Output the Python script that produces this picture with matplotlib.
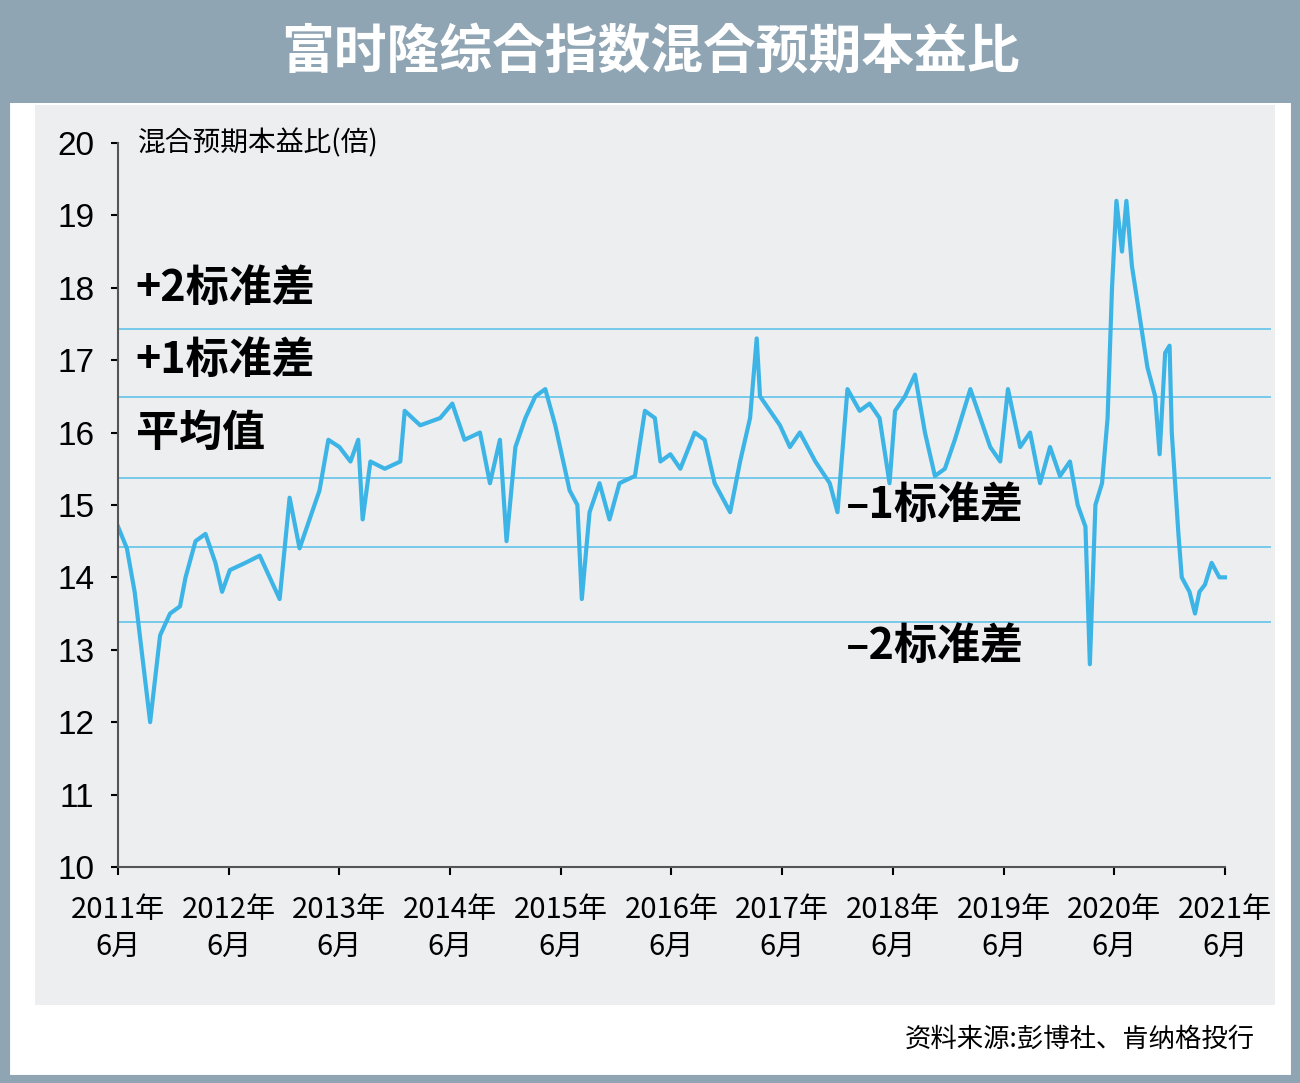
import matplotlib.pyplot as plt
from matplotlib.patches import Rectangle

plt.rcParams['font.family'] = ['Noto Sans CJK SC', 'Noto Sans CJK JP', 'DejaVu Sans']

# 数据 (十进制年份, 本益比)
years = [2011.50, 2011.58, 2011.65, 2011.79, 2011.88, 2011.97, 2012.06, 2012.11, 2012.20, 2012.29,
         2012.38, 2012.44, 2012.51, 2012.65, 2012.78, 2012.87, 2012.96, 2013.05, 2013.14, 2013.23,
         2013.32, 2013.40, 2013.50, 2013.60, 2013.67, 2013.71, 2013.78, 2013.91, 2014.05, 2014.09,
         2014.23, 2014.41, 2014.52, 2014.63, 2014.77, 2014.86, 2014.95, 2015.01, 2015.09, 2015.18,
         2015.27, 2015.36, 2015.45, 2015.58, 2015.65, 2015.69, 2015.76, 2015.85, 2015.94, 2016.03,
         2016.17, 2016.26, 2016.35, 2016.40, 2016.49, 2016.58, 2016.71, 2016.80, 2016.89, 2017.03,
         2017.12, 2017.21, 2017.27, 2017.30, 2017.39, 2017.48, 2017.57, 2017.66, 2017.80, 2017.93,
         2018.00, 2018.09, 2018.20, 2018.29, 2018.38, 2018.47, 2018.52, 2018.61, 2018.70, 2018.79,
         2018.88, 2018.97, 2019.06, 2019.20, 2019.29, 2019.38, 2019.47, 2019.54, 2019.65, 2019.74,
         2019.83, 2019.92, 2020.01, 2020.10, 2020.17, 2020.24, 2020.28, 2020.33, 2020.39, 2020.44,
         2020.48, 2020.52, 2020.57, 2020.61, 2020.66, 2020.71, 2020.75, 2020.80, 2020.87, 2020.91,
         2020.96, 2021.00, 2021.02, 2021.05, 2021.08, 2021.11, 2021.18, 2021.23, 2021.27, 2021.32,
         2021.38, 2021.45, 2021.50]
pe = [14.7, 14.4, 13.8, 12.0, 13.2, 13.5, 13.6, 14.0, 14.5, 14.6,
      14.2, 13.8, 14.1, 14.2, 14.3, 14.0, 13.7, 15.1, 14.4, 14.8,
      15.2, 15.9, 15.8, 15.6, 15.9, 14.8, 15.6, 15.5, 15.6, 16.3,
      16.1, 16.2, 16.4, 15.9, 16.0, 15.3, 15.9, 14.5, 15.8, 16.2,
      16.5, 16.6, 16.1, 15.2, 15.0, 13.7, 14.9, 15.3, 14.8, 15.3,
      15.4, 16.3, 16.2, 15.6, 15.7, 15.5, 16.0, 15.9, 15.3, 14.9,
      15.6, 16.2, 17.3, 16.5, 16.3, 16.1, 15.8, 16.0, 15.6, 15.3,
      14.9, 16.6, 16.3, 16.4, 16.2, 15.3, 16.3, 16.5, 16.8, 16.0,
      15.4, 15.5, 15.9, 16.6, 16.2, 15.8, 15.6, 16.6, 15.8, 16.0,
      15.3, 15.8, 15.4, 15.6, 15.0, 14.7, 12.8, 15.0, 15.3, 16.2,
      18.0, 19.2, 18.5, 19.2, 18.3, 17.8, 17.4, 16.9, 16.5, 15.7,
      17.1, 17.2, 16.0, 15.3, 14.6, 14.0, 13.8, 13.5, 13.8, 13.9,
      14.2, 14.0, 14.0]

band_levels = [17.43, 16.49, 15.37, 14.42, 13.38]
band_labels = ['+2标准差', '+1标准差', '平均值', '–1标准差', '–2标准差']
x_tick_years = list(range(2011, 2022))
y_ticks = list(range(10, 21))

line_col = '#3db4e6'
frame_col = '#8fa5b4'

fig = plt.figure(figsize=(13, 10.83), dpi=100)
fig.patch.set_facecolor('white')
# 外框和标题栏 (放在坐标轴下面)
for r in [Rectangle((0.003, 0.003), 0.994, 0.994, fill=False, edgecolor=frame_col, lw=8),
          Rectangle((0, 0.905), 1, 0.095, facecolor=frame_col, edgecolor='none'),
          Rectangle((0.027, 0.072), 0.954, 0.831, facecolor='#eceef0', edgecolor='none')]:
    r.set_transform(fig.transFigure)
    r.set_zorder(-10)
    fig.patches.append(r)
fig.text(0.5, 0.952, '富时隆综合指数混合预期本益比', color='white', fontsize=38,
         fontweight='bold', ha='center', va='center')
fig.text(0.965, 0.040, '资料来源:彭博社、肯纳格投行', fontsize=19, ha='right', va='center')

ax = fig.add_axes([0.0908, 0.1995, 0.978 - 0.0908, 0.6685])
ax.set_facecolor('none')
ax.set_xlim(2011.5, 2021.92)
ax.set_ylim(10, 20)

for lv in band_levels:
    ax.axhline(lv, color='#6cc6ea', lw=1.3)
ax.plot(years, pe, color=line_col, lw=3)

for sp in ['top', 'right']:
    ax.spines[sp].set_visible(False)
ax.spines['left'].set_color('#555555')
ax.spines['bottom'].set_color('#555555')
ax.spines['left'].set_linewidth(1.5)
ax.spines['bottom'].set_linewidth(1.5)
ax.spines['bottom'].set_bounds(2011.5, 2021.5)

ax.set_yticks(y_ticks)
ax.set_yticklabels([str(v) for v in y_ticks], fontsize=24, fontfamily='Liberation Sans')
ax.set_xticks([y + 0.5 for y in x_tick_years])
ax.set_xticklabels([f'{y}年\n6月' for y in x_tick_years], fontsize=21, linespacing=1.3)
ax.tick_params(axis='y', length=5, width=1.5, pad=12)
ax.tick_params(axis='x', length=6, width=1.5, pad=14)

ax.text(2011.68, 20, '混合预期本益比(倍)', fontsize=20, va='center')
kw = dict(fontsize=31, fontweight='bold', va='center')
ax.text(2011.66, 18.0, band_labels[0], **kw)
ax.text(2011.66, 17.0, band_labels[1], **kw)
ax.text(2011.66, 16.0, band_labels[2], **kw)
ax.text(2018.08, 15.0, band_labels[3], **kw)
ax.text(2018.08, 13.05, band_labels[4], **kw)

fig.savefig('out.png', dpi=100)
